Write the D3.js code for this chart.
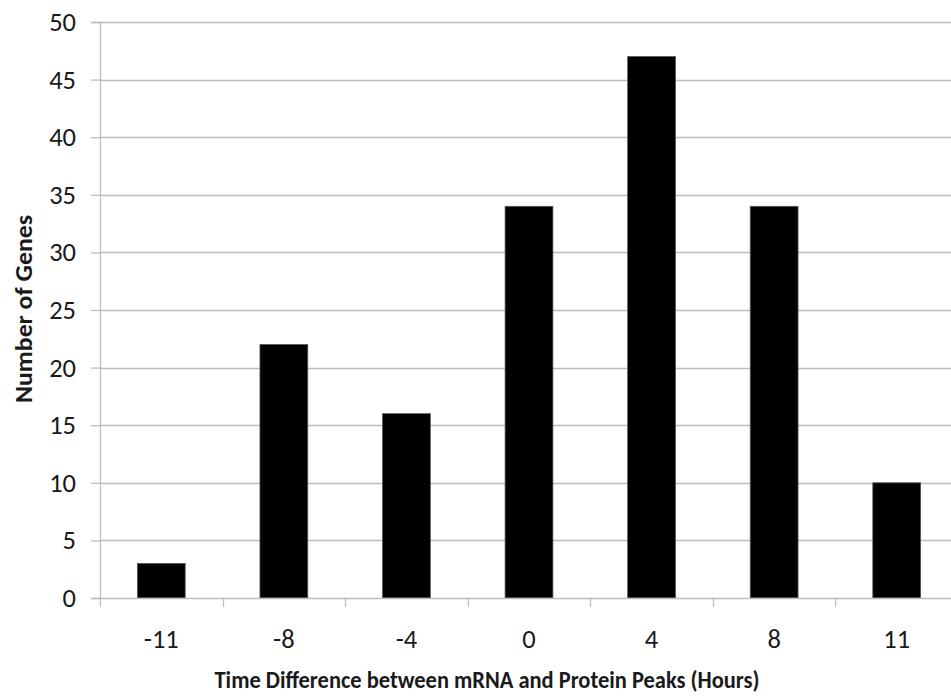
<!DOCTYPE html>
<html><head><meta charset="utf-8">
<script src="https://cdn.jsdelivr.net/npm/d3@7"></script>
<style>
html,body{margin:0;padding:0;background:#fff;overflow:hidden}
text{font-family:Carlito,Calibri,Lato,"Open Sans",sans-serif;fill:#1a1a1a}
</style></head>
<body>
<svg id="c" width="951" height="696"></svg>
<script>
const categories = ["-11","-8","-4","0","4","8","11"];
const geneCounts = [3,22,16,34,47,34,10];
const yTicks = [0,5,10,15,20,25,30,35,40,45,50];
const xTitle = "Time Difference between mRNA and Protein Peaks (Hours)";
const yTitle = "Number of Genes";

const svg = d3.select("#c");
const mLeft = 100, mRight = 958, mTop = 22, mBottom = 598;

const y = d3.scaleLinear().domain([0,50]).range([mBottom, mTop]);
const xAxisBand = d3.scaleBand().domain(categories).range([mLeft, mRight]).padding(0);
const xBar = d3.scaleBand().domain(categories).range([mLeft, mRight]).paddingInner(0.61).paddingOuter(0.305);

// gridlines
svg.append("g").selectAll("line").data(yTicks.filter(d=>d>0)).join("line")
  .attr("x1", mLeft).attr("x2", mRight)
  .attr("y1", d=>Math.round(y(d))+0.5).attr("y2", d=>Math.round(y(d))+0.5)
  .attr("stroke", "#bdbdbd").attr("stroke-width", 1.3);

// y axis
const yAx = svg.append("g").attr("transform", `translate(${mLeft},0)`)
  .call(d3.axisLeft(y).tickValues(yTicks).tickSize(9).tickPadding(15));
yAx.select(".domain").attr("stroke", "#bdbdbd").attr("stroke-width", 1.3);
yAx.selectAll(".tick line").attr("stroke", "#bdbdbd").attr("stroke-width", 1.3);
yAx.selectAll(".tick text").style("font-size", "26.5px").attr("fill", "#1a1a1a").attr("dy", "0.32em");

// bars
svg.append("g").selectAll("rect").data(categories).join("rect")
  .attr("x", d=>xBar(d)).attr("width", xBar.bandwidth())
  .attr("y", (d,i)=>y(geneCounts[i])).attr("height", (d,i)=>y(0)-y(geneCounts[i]))
  .attr("fill", "#000").attr("stroke", "#555").attr("stroke-width", 0.8);

// x axis
const xAx = svg.append("g").attr("transform", `translate(0,${mBottom})`)
  .call(d3.axisBottom(xAxisBand).tickSize(0).tickPadding(31));
xAx.select(".domain").attr("stroke", "#bdbdbd").attr("stroke-width", 1.3);
xAx.selectAll(".tick text").style("font-size", "26.5px").attr("fill", "#1a1a1a");
// boundary ticks
const edges = categories.map(c=>xAxisBand(c)).concat([mRight]);
svg.append("g").selectAll("line").data(edges).join("line")
  .attr("x1", d=>Math.round(d)+0.5).attr("x2", d=>Math.round(d)+0.5)
  .attr("y1", mBottom).attr("y2", mBottom+9)
  .attr("stroke", "#bdbdbd").attr("stroke-width", 1.3);

// titles
svg.append("text").attr("x", 487).attr("y", 688).attr("text-anchor", "middle")
  .style("font-size", "23.5px").style("font-weight", "bold")
  .attr("textLength", 545).attr("lengthAdjust", "spacingAndGlyphs").text(xTitle);
svg.append("text").attr("transform", `translate(32,309) rotate(-90)`).attr("text-anchor", "middle")
  .style("font-size", "24px").style("font-weight", "bold")
  .attr("textLength", 188).attr("lengthAdjust", "spacingAndGlyphs").text(yTitle);
</script>
</body></html>
